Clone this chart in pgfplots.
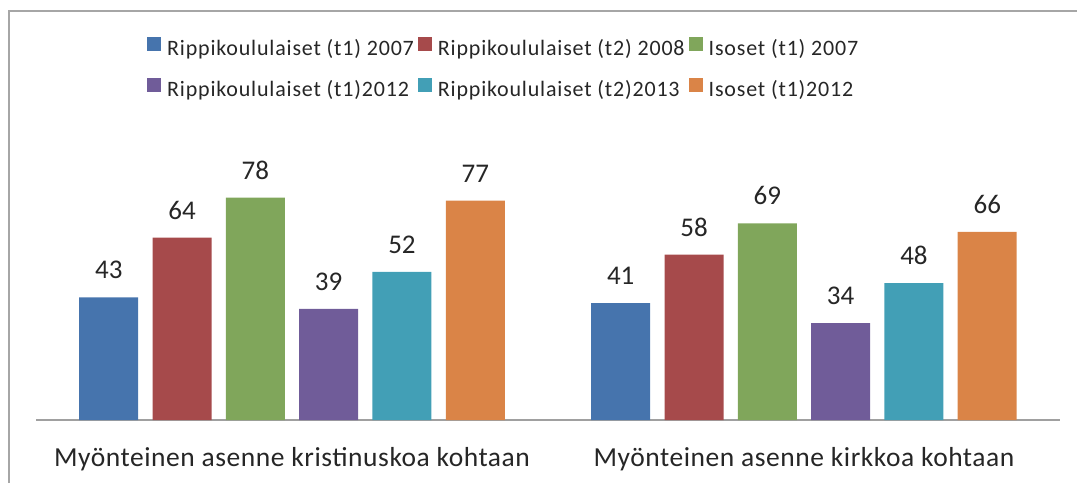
\documentclass[border=0pt]{standalone}
\usepackage{fontspec}
\setmainfont{Carlito}
\newfontfamily\legfont{Carlito}[LetterSpace=3.7]
\newfontfamily\catfont{Carlito}[LetterSpace=2]
\usepackage{pgfplots}
\pgfplotsset{compat=1.18}
\definecolor{cA}{HTML}{4674AD}
\definecolor{cB}{HTML}{A64A4B}
\definecolor{cC}{HTML}{80A65B}
\definecolor{cD}{HTML}{705C99}
\definecolor{cE}{HTML}{429FB6}
\definecolor{cF}{HTML}{DA8447}
\definecolor{txt}{HTML}{262626}
\definecolor{frame}{HTML}{A6A6A6}
\definecolor{axl}{HTML}{A0A0A0}
\begin{document}
\begin{tikzpicture}[x=1pt,y=1pt]
\useasboundingbox (0,0) rectangle (1077,-483);
\draw[frame,line width=1.2pt] (9,-483) -- (9,-11) -- (1077,-11);
\begin{axis}[
  at={(36pt,-420pt)}, anchor=south west,
  scale only axis, width=1024pt, height=285pt,
  xmin=0.5, xmax=2.5, ymin=0, ymax=100,
  ybar=14.3pt, bar width=59pt,
  axis x line*=bottom, axis y line=none,
  x axis line style={axl, line width=1.6pt, -},
  xtick={1,2}, xticklabels={Myönteinen asenne kristinuskoa kohtaan, Myönteinen asenne kirkkoa kohtaan},
  major tick length=0pt,
  xticklabel style={font=\catfont\fontsize{27.5}{32}\selectfont, text=txt, anchor=base, inner sep=0pt, yshift=-46pt},
  /pgf/number format/assume math mode=true,
  nodes near coords,
  nodes near coords style={font=\fontsize{27}{31}\selectfont, text=txt, anchor=base, inner sep=0pt, yshift=18.5pt},
  legend columns=3,
  legend cell align=left,
  legend style={at={(axis description cs:0.1084,1.345)}, anchor=north west, draw=none, fill=none, inner sep=0pt,
    font=\legfont\fontsize{22}{26}\selectfont, text=txt,
    nodes={inner sep=0pt, text height=15pt, text depth=5pt},
    /tikz/column sep=6pt,
    /tikz/every even column/.append style={column sep=4pt},
    /tikz/row sep=17pt},
  legend image code/.code={\fill[#1] (0pt,0pt) rectangle (14pt,14pt);},
]
\addplot[fill=cA, draw=none] coordinates {(1,43) (2,41)};
\addplot[fill=cB, draw=none] coordinates {(1,64) (2,58)};
\addplot[fill=cC, draw=none] coordinates {(1,78) (2,69)};
\addplot[fill=cD, draw=none] coordinates {(1,39) (2,34)};
\addplot[fill=cE, draw=none] coordinates {(1,52) (2,48)};
\addplot[fill=cF, draw=none] coordinates {(1,77) (2,66)};
\legend{Rippikoululaiset (t1) 2007, Rippikoululaiset (t2) 2008, Isoset (t1) 2007, Rippikoululaiset (t1)2012, Rippikoululaiset (t2)2013, Isoset (t1)2012}
\end{axis}
\end{tikzpicture}
\end{document}
